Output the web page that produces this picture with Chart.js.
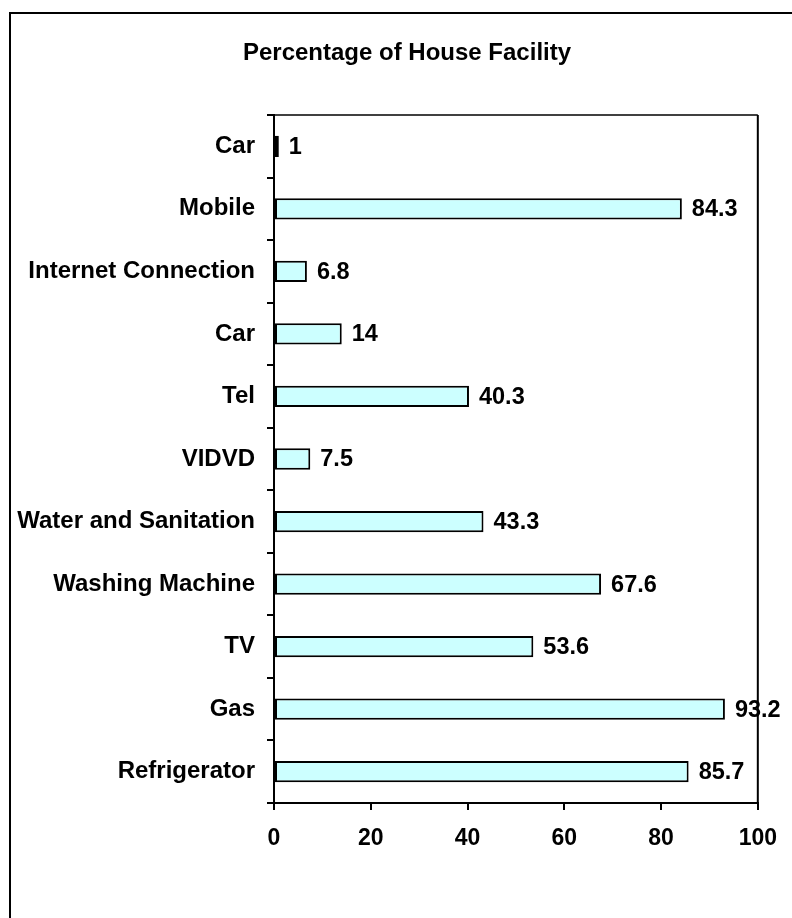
<!DOCTYPE html>
<html>
<head>
<meta charset="utf-8">
<script src="https://cdn.jsdelivr.net/npm/chart.js@4/dist/chart.umd.min.js"></script>
<style>
  html, body { margin: 0; padding: 0; background: #fff; overflow: hidden; }
  #wrap { position: relative; width: 792px; height: 918px; }
  #frame { position: absolute; left: 9px; top: 12px; width: 900px; height: 1000px; border: 2px solid #000; }
  #myChart { position: absolute; left: 0; top: 0; }
</style>
</head>
<body>
<div id="wrap">
  <div id="frame"></div>
  <canvas id="myChart" width="792" height="918"></canvas>
</div>
<script>
var element = document.getElementById('myChart').getContext('2d');

// categories, top to bottom as in the picture
var facilities = ['Car', 'Mobile', 'Internet Connection', 'Car', 'Tel', 'VIDVD',
    'Water and Sanitation', 'Washing Machine', 'TV', 'Gas', 'Refrigerator'];

// percentages for each facility
var percentages = [1, 84.3, 6.8, 14, 40.3, 7.5, 43.3, 67.6, 53.6, 93.2, 85.7];

var xTicks = [0, 20, 40, 60, 80, 100];

var chartTitle = 'Percentage of House Facility';
var fontFamily = 'Arial, "Liberation Sans", Helvetica, sans-serif';

// draws the title, the top/right plot border and the value labels
var extras = {
    id: 'extras',
    afterDatasetsDraw: function (chart) {
        var ctx = chart.ctx;
        var area = chart.chartArea;
        ctx.save();

        // plot border top and right
        ctx.strokeStyle = '#000';
        ctx.lineWidth = 1.5;
        ctx.beginPath();
        ctx.moveTo(area.left, area.top);
        ctx.lineTo(area.right, area.top);
        ctx.stroke();
        ctx.lineWidth = 2;
        ctx.beginPath();
        ctx.moveTo(area.right, area.top);
        ctx.lineTo(area.right, area.bottom);
        ctx.stroke();

        // value labels
        ctx.fillStyle = '#000';
        ctx.font = 'bold 23.5px ' + fontFamily;
        ctx.textAlign = 'left';
        ctx.textBaseline = 'middle';
        chart.getDatasetMeta(0).data.forEach(function (bar, i) {
            ctx.fillText(String(percentages[i]), bar.x + 10, bar.y + 1);
        });

        // title
        ctx.font = 'bold 24px ' + fontFamily;
        ctx.textAlign = 'center';
        ctx.fillText(chartTitle, 407, 53);
        ctx.restore();
    }
};

var chartData = {
    labels: facilities,
    datasets: [{
        data: percentages,
        backgroundColor: '#ccffff',
        borderColor: '#000',
        borderWidth: 2,
        borderSkipped: false,
        barPercentage: 0.68,
        categoryPercentage: 0.5
    }]
};

var chartOptions = {
    indexAxis: 'y',
    responsive: false,
    animation: false,
    layout: {
        padding: { left: 0, right: 33, top: 115, bottom: 0 }
    },
    plugins: {
        legend: { display: false },
        title: { display: false },
        tooltip: { enabled: false }
    },
    scales: {
        x: {
            min: 0,
            max: 100,
            afterBuildTicks: function (scale) {
                scale.ticks = xTicks.map(function (v) { return { value: v }; });
            },
            afterFit: function (scale) { scale.height = 115; },
            grid: {
                drawOnChartArea: false,
                drawTicks: true,
                tickLength: 7,
                color: '#000',
                lineWidth: 2
            },
            border: { color: '#000', width: 2 },
            ticks: {
                color: '#000',
                padding: 15,
                maxRotation: 0,
                font: { family: fontFamily, size: 23, weight: 'bold' }
            }
        },
        y: {
            afterFit: function (scale) { scale.width = 274; },
            grid: {
                offset: true,
                drawOnChartArea: false,
                drawTicks: true,
                tickLength: 7,
                color: '#000',
                lineWidth: 2
            },
            border: { color: '#000', width: 2 },
            ticks: {
                color: '#000',
                padding: 12,
                autoSkip: false,
                font: { family: fontFamily, size: 24, weight: 'bold' }
            }
        }
    }
};

var chart = new Chart(element, { type: 'bar', data: chartData, options: chartOptions, plugins: [extras] });
</script>
</body>
</html>
